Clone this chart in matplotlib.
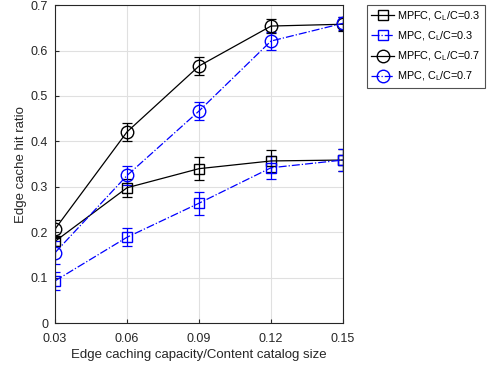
import matplotlib
matplotlib.use("Agg")
import matplotlib.pyplot as plt
from matplotlib.lines import Line2D

plt.rcParams['font.family'] = ['Liberation Sans', 'DejaVu Sans']
plt.rcParams['mathtext.fontset'] = 'custom'
plt.rcParams['mathtext.rm'] = 'Liberation Sans'
plt.rcParams['mathtext.it'] = 'Liberation Sans'

x = [0.03, 0.06, 0.09, 0.12, 0.15]
mpfc_03 = [0.180, 0.298, 0.340, 0.357, 0.359]
mpfc_03_err = [0.010, 0.020, 0.025, 0.025, 0.025]
mpc_03 = [0.093, 0.189, 0.264, 0.342, 0.359]
mpc_03_err = [0.020, 0.020, 0.025, 0.025, 0.025]
mpfc_07 = [0.207, 0.421, 0.566, 0.654, 0.658]
mpfc_07_err = [0.020, 0.020, 0.020, 0.015, 0.015]
mpc_07 = [0.155, 0.325, 0.467, 0.621, 0.660]
mpc_07_err = [0.025, 0.020, 0.020, 0.020, 0.015]
labels = ['MPFC, C$_L$/C=0.3', 'MPC, C$_L$/C=0.3', 'MPFC, C$_L$/C=0.7', 'MPC, C$_L$/C=0.7']
xticks = [0.03, 0.06, 0.09, 0.12, 0.15]
yticks = [0, 0.1, 0.2, 0.3, 0.4, 0.5, 0.6, 0.7]

fig = plt.figure(figsize=(4.93, 3.68), dpi=100)
ax = fig.add_axes([0.1116, 0.122, 0.5842, 0.864])

series = [
    (mpfc_03, mpfc_03_err, 'black', '-', 's', 7),
    (mpc_03, mpc_03_err, 'blue', '-.', 's', 7),
    (mpfc_07, mpfc_07_err, 'black', '-', 'o', 9),
    (mpc_07, mpc_07_err, 'blue', '-.', 'o', 9),
]
handles = []
for (y, e, c, ls, m, ms), lab in zip(series, labels):
    ax.errorbar(x, y, yerr=e, color=c, linestyle=ls, marker=m, markersize=ms,
                markerfacecolor='none', markeredgecolor=c, linewidth=0.9,
                elinewidth=0.9, capsize=3.5, capthick=0.9, label=lab)
    handles.append(Line2D([], [], color=c, linestyle=ls, marker=m, markersize=ms,
                          markerfacecolor='none', markeredgecolor=c, linewidth=0.9))

ax.set_xlim(0.03, 0.15)
ax.set_ylim(0, 0.7)
ax.set_xticks(xticks)
ax.set_xticklabels(['0.03', '0.06', '0.09', '0.12', '0.15'])
ax.set_yticks(yticks)
ax.set_yticklabels(['0', '0.1', '0.2', '0.3', '0.4', '0.5', '0.6', '0.7'])
ax.grid(True, color='#e0e0e0', linewidth=0.8)
ax.set_axisbelow(True)
ax.tick_params(direction='in', labelsize=9, colors='#262626', length=3, top=False, right=False)
ax.tick_params(axis='x', pad=7)
ax.tick_params(axis='y', pad=5)
for s in ax.spines.values():
    s.set_color('#262626')
    s.set_linewidth(0.8)
ax.set_xlabel('Edge caching capacity/Content catalog size', fontsize=9.5, color='#262626', labelpad=3)
ax.set_ylabel('Edge cache hit ratio', fontsize=9.5, color='#262626', labelpad=3)

leg = fig.legend(handles=handles, labels=labels, loc='upper left',
                 bbox_to_anchor=(367/493, 1 - 5/368), fontsize=7.8,
                 frameon=True, fancybox=False, edgecolor='#262626',
                 handlelength=2.1, handletextpad=0.3, borderpad=0.4,
                 labelspacing=0.6, borderaxespad=0)
leg.get_frame().set_linewidth(0.8)

fig.savefig('out.png', dpi=100)
